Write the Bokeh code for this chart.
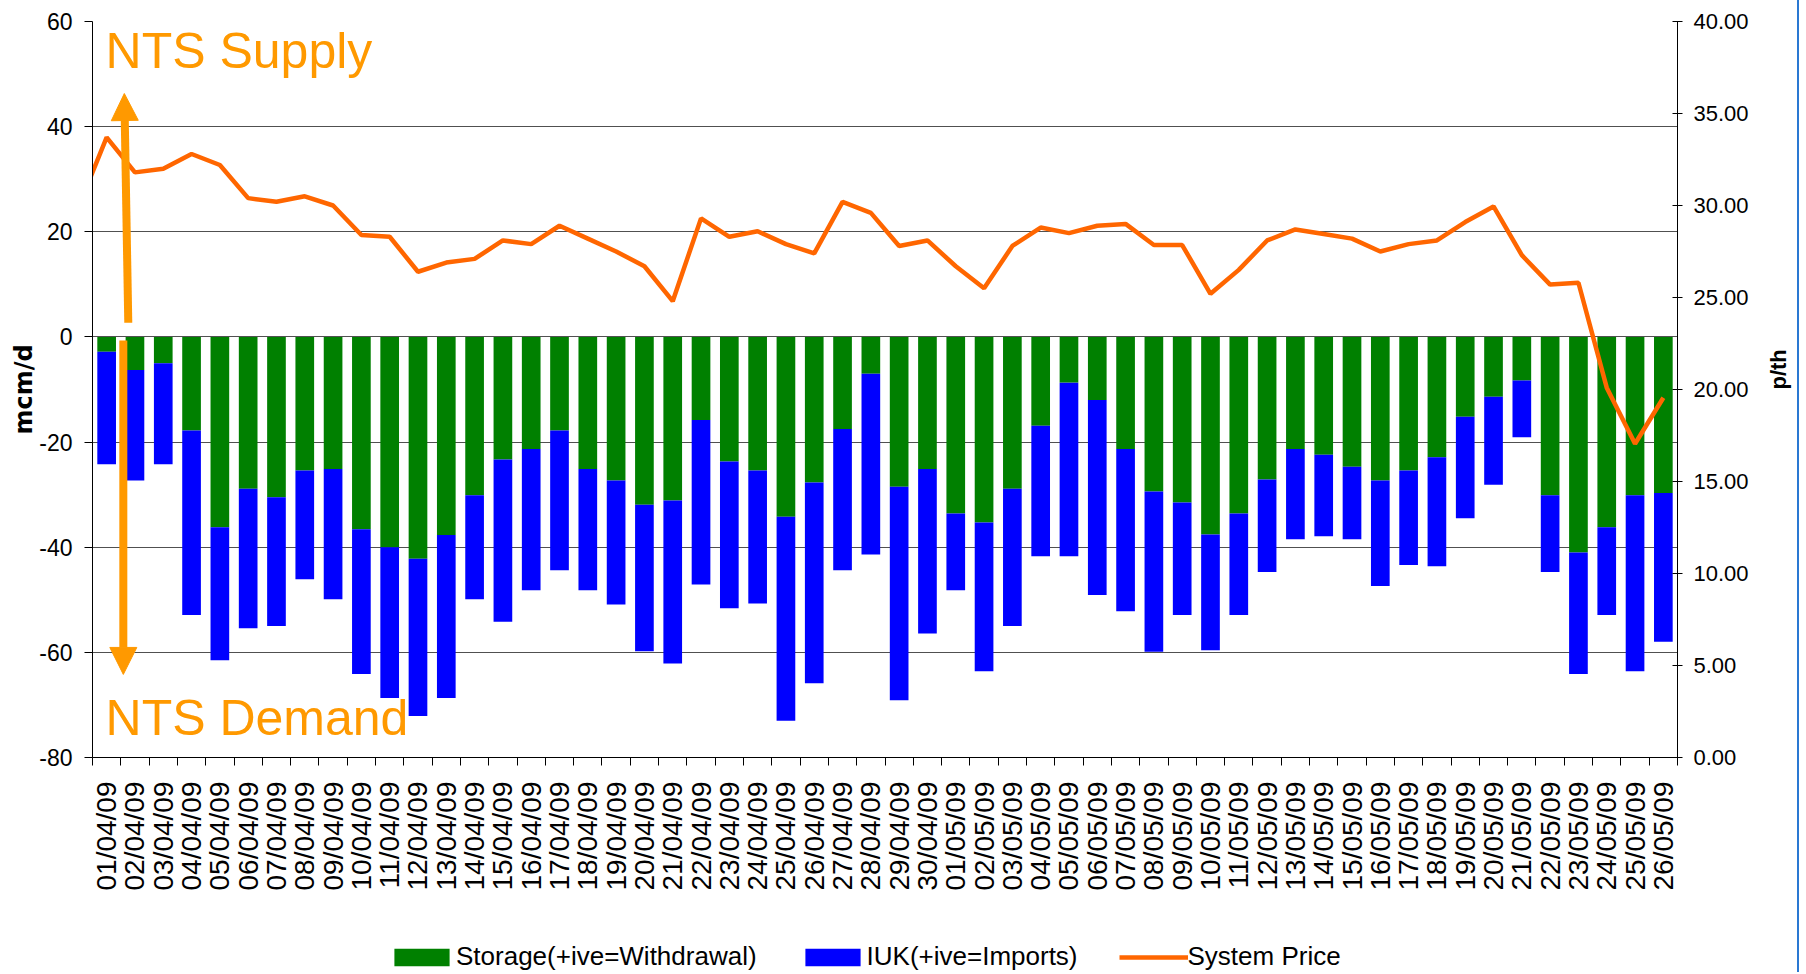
import math
from bokeh.plotting import figure
from bokeh.layouts import column
from bokeh.models import (Range1d, LinearAxis, FixedTicker, NumeralTickFormatter, Legend,
                          LegendItem, ColumnDataSource, Label, Arrow, NormalHead)
from bokeh.embed import file_html
from bokeh.resources import INLINE

# ---------------- data ----------------
dates = [
    "01/04/09", "02/04/09", "03/04/09", "04/04/09", "05/04/09", "06/04/09", "07/04/09",
    "08/04/09", "09/04/09", "10/04/09", "11/04/09", "12/04/09", "13/04/09", "14/04/09",
    "15/04/09", "16/04/09", "17/04/09", "18/04/09", "19/04/09", "20/04/09", "21/04/09",
    "22/04/09", "23/04/09", "24/04/09", "25/04/09", "26/04/09", "27/04/09", "28/04/09",
    "29/04/09", "30/04/09", "01/05/09", "02/05/09", "03/05/09", "04/05/09", "05/05/09",
    "06/05/09", "07/05/09", "08/05/09", "09/05/09", "10/05/09", "11/05/09", "12/05/09",
    "13/05/09", "14/05/09", "15/05/09", "16/05/09", "17/05/09", "18/05/09", "19/05/09",
    "20/05/09", "21/05/09", "22/05/09", "23/05/09", "24/05/09", "25/05/09", "26/05/09",
]

# Storage (+ive = withdrawal), mcm/d
storage = [
    -2.8, -6.3, -5.0, -17.8, -36.2, -28.9, -30.5, -25.4, -25.1, -36.6, -40.0, -42.2, -37.7, -30.1,
    -23.3, -21.3, -17.8, -25.1, -27.3, -31.9, -31.1, -15.8, -23.7, -25.4, -34.2, -27.7, -17.5, -7.0,
    -28.5, -25.1, -33.6, -35.3, -28.9, -16.9, -8.7, -12.0, -21.3, -29.4, -31.5, -37.6, -33.6, -27.1,
    -21.3, -22.4, -24.7, -27.3, -25.4, -22.9, -15.2, -11.4, -8.3, -30.1, -41.0, -36.2, -30.1, -29.7,
]

# IUK (+ive = imports), mcm/d
iuk = [
    -21.4, -21.0, -19.2, -35.1, -25.3, -26.5, -24.5, -20.7, -24.8, -27.5, -28.7, -29.9, -31.0, -19.8,
    -30.9, -26.9, -26.6, -23.1, -23.6, -27.9, -31.0, -31.3, -27.9, -25.3, -38.8, -38.2, -26.9, -34.4,
    -40.6, -31.3, -14.6, -28.3, -26.1, -24.8, -33.0, -37.1, -30.9, -30.5, -21.4, -22.0, -19.3, -17.6,
    -17.2, -15.5, -13.8, -20.1, -18.0, -20.7, -19.3, -16.7, -10.8, -14.6, -23.1, -16.7, -33.5, -28.3,
]

# System price, p/th: 31/03/09 (just off the left edge) then 01/04/09 .. 26/05/09
system_price = [
    29.9,
    33.7, 31.8, 32.0, 32.8, 32.2, 30.4, 30.2, 30.5, 30.0, 28.4, 28.3, 26.4, 26.9, 27.1,
    28.1, 27.9, 28.9, 28.2, 27.5, 26.7, 24.8, 29.3, 28.3, 28.6, 27.9, 27.4, 30.2, 29.6,
    27.8, 28.1, 26.7, 25.5, 27.8, 28.8, 28.5, 28.9, 29.0, 27.85, 27.85, 25.2, 26.5, 28.1,
    28.7, 28.45, 28.2, 27.5, 27.9, 28.1, 29.1, 29.95, 27.3, 25.7, 25.8, 20.1, 17.05, 19.55,
]

left_ticks = [-80, -60, -40, -20, 0, 20, 40, 60]
right_ticks = [0, 5, 10, 15, 20, 25, 30, 35, 40]

# ---------------- styling ----------------
FONT = "Liberation Sans"
GREEN = "#008000"
BLUE = "#0000FF"
LINE_ORANGE = "#FF6600"
ORANGE = "#FF9900"
GRID = "#505050"
W = 1806
EDGE = {"background": "linear-gradient(to right, #ffffff 1797px, #2a78d2 1797px, "
                      "#2a78d2 1799px, #ffffff 1799px)"}

n = len(dates)
x_idx = list(range(n))
src = ColumnDataSource(dict(x=x_idx, date=dates, storage=storage, iuk=iuk))
price_src = ColumnDataSource(dict(x=list(range(-1, n)), price=system_price))

p = figure(width=W, height=920, output_backend="svg", toolbar_location=None,
           x_range=Range1d(-0.5, n - 0.5), y_range=Range1d(-80, 60),
           min_border_left=92, min_border_right=W - 92 - 1595, min_border_top=21,
           min_border_bottom=163)
p.outline_line_color = None
p.background_fill_color = "white"
p.border_fill_alpha = 0
p.extra_y_ranges = {"price": Range1d(0, 40)}
p.styles = EDGE

# grid
p.xgrid.grid_line_color = None
p.ygrid.ticker = FixedTicker(ticks=left_ticks)
p.ygrid.grid_line_color = GRID
p.ygrid.grid_line_width = 1

# bars
bars = p.vbar_stack(["storage", "iuk"], x="x", width=0.66, fill_color=[GREEN, BLUE],
                    line_color=None, source=src)

# price line
p.line("x", "price", source=price_src, y_range_name="price",
       line_color=LINE_ORANGE, line_width=4.5)

# x axis
xa = p.xaxis[0]
xa.ticker = FixedTicker(ticks=x_idx, minor_ticks=[i - 0.5 for i in range(n + 1)])
xa.major_label_overrides = {i: d for i, d in enumerate(dates)}
xa.major_label_orientation = math.pi / 2
xa.major_tick_out = 0
xa.major_tick_in = 0
xa.minor_tick_out = 8
xa.minor_tick_in = 0
xa.minor_tick_line_color = "black"
xa.major_label_standoff = 16
xa.major_label_text_font = FONT
xa.major_label_text_font_size = "28px"
xa.major_label_text_color = "black"
xa.axis_line_color = "black"

# left axis
ya = p.yaxis[0]
ya.ticker = FixedTicker(ticks=left_ticks)
ya.formatter = NumeralTickFormatter(format="0")
ya.major_tick_out = 8
ya.major_tick_in = 0
ya.minor_tick_line_color = None
ya.major_label_standoff = 12
ya.major_label_text_font = FONT
ya.major_label_text_font_size = "23px"
ya.major_label_text_color = "black"
ya.axis_line_color = "black"
ya.axis_label = "mcm/d"
ya.axis_label_text_font = "DejaVu Sans"
ya.axis_label_text_font_style = "bold"
ya.axis_label_text_font_size = "24px"
ya.axis_label_text_color = "black"
ya.axis_label_standoff = -2

# right axis
ra = LinearAxis(y_range_name="price", ticker=FixedTicker(ticks=right_ticks),
                formatter=NumeralTickFormatter(format="0.00"), axis_label="p/th")
ra.major_tick_in = 5
ra.major_tick_out = 5
ra.minor_tick_line_color = None
ra.major_label_standoff = 11
ra.major_label_text_font = FONT
ra.major_label_text_font_size = "22px"
ra.major_label_text_color = "black"
ra.axis_line_color = "black"
ra.axis_label_text_font = FONT
ra.axis_label_text_font_style = "bold"
ra.axis_label_text_font_size = "22px"
ra.axis_label_text_color = "black"
ra.axis_label_standoff = 27
ra.axis_label_orientation = math.pi / 2
p.add_layout(ra, "right")

# annotations
for txt, yv in (("NTS Supply", 54.35), ("NTS Demand", -72.5)):
    p.add_layout(Label(x=-0.04, y=yv, text=txt, text_font=FONT, text_font_size="50px",
                       text_color=ORANGE, text_baseline="middle"))

p.add_layout(Arrow(end=NormalHead(size=27, fill_color=ORANGE, line_color=ORANGE, line_width=1),
                   x_start=0.764, y_start=2.7, x_end=0.624, y_end=46.3,
                   line_color=ORANGE, line_width=8))
p.add_layout(Arrow(end=NormalHead(size=27, fill_color=ORANGE, line_color=ORANGE, line_width=1),
                   x_start=0.589, y_start=-0.7, x_end=0.589, y_end=-64.2,
                   line_color=ORANGE, line_width=8))

# ---------------- legend strip ----------------
# Same series drawn again in a thin strip whose ranges keep them out of view; only the
# legend keys show.
lg = figure(width=W, height=52, output_backend="svg", toolbar_location=None,
            x_axis_location=None, y_axis_location=None,
            x_range=Range1d(-0.5, n - 0.5), y_range=Range1d(0, 1),
            min_border_left=0, min_border_right=0, min_border_top=0, min_border_bottom=0)
lg.outline_line_color = None
lg.grid.grid_line_color = None
lg.background_fill_alpha = 0
lg.border_fill_alpha = 0
lg.styles = EDGE
key_storage = lg.vbar(x="x", top="storage", width=0.66, source=src,
                      fill_color=GREEN, line_color=None)
key_iuk = lg.vbar(x="x", top="iuk", width=0.66, source=src,
                  fill_color=BLUE, line_color=None)
key_price = lg.line(x="x", y="price", source=price_src, line_color=LINE_ORANGE, line_width=4.5)

legend = Legend(items=[LegendItem(label="Storage(+ive=Withdrawal)", renderers=[key_storage]),
                       LegendItem(label="IUK(+ive=Imports)", renderers=[key_iuk]),
                       LegendItem(label="System Price", renderers=[key_price])],
                location=(295, 0), orientation="horizontal", padding=0, margin=0,
                spacing=41, glyph_width=69, glyph_height=22, label_standoff=0,
                label_text_font=FONT, label_text_font_size="26px", label_text_color="black",
                border_line_color=None, background_fill_alpha=0)
lg.add_layout(legend, "center")

layout = column(p, lg, spacing=0)
open("out.html", "w").write(file_html(layout, INLINE))
